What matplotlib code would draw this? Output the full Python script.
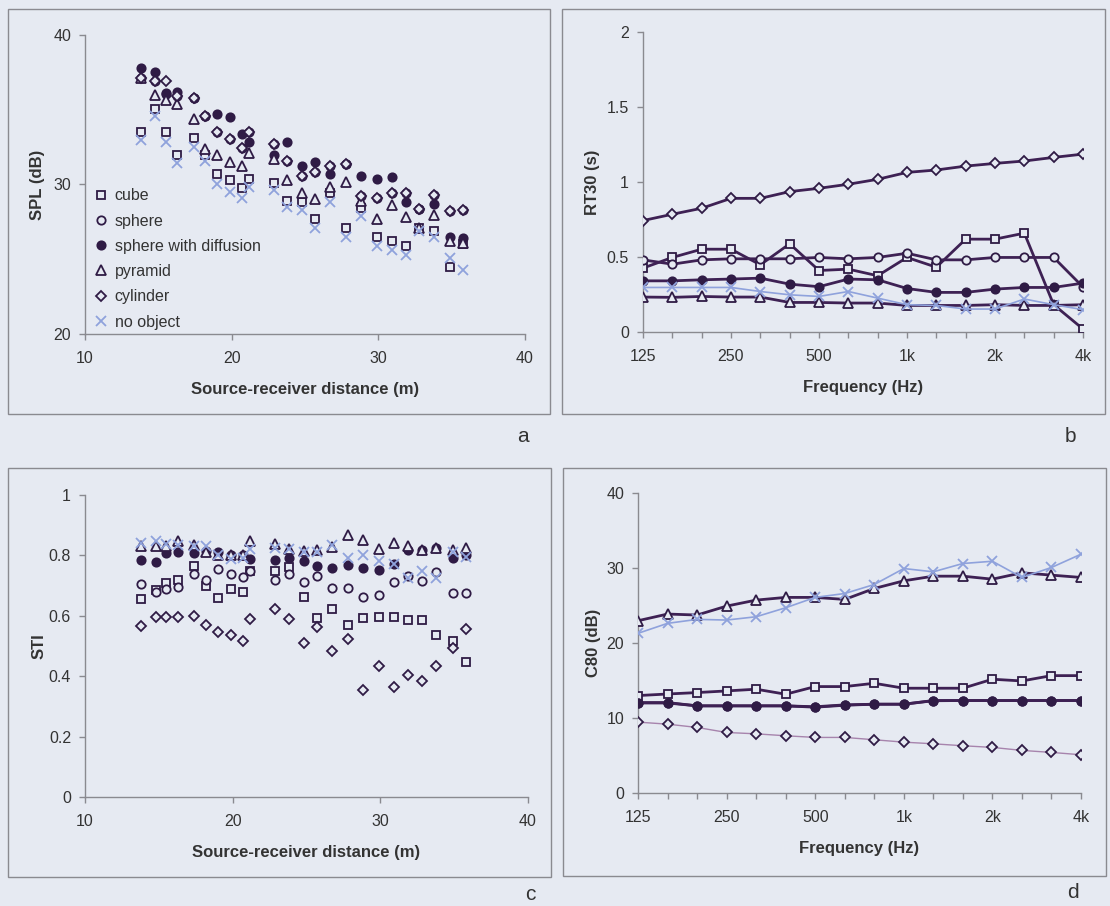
import numpy as np
import matplotlib
matplotlib.use("Agg")
import matplotlib.pyplot as plt
from matplotlib.patches import Rectangle

plt.rcParams["font.family"] = ["Liberation Sans", "DejaVu Sans"]

#%% data
dist = [13.8, 14.8, 15.5, 16.3, 17.4, 18.2, 19.0, 19.9, 20.7, 21.2, 22.9, 23.8,
        24.8, 25.7, 26.7, 27.8, 28.8, 29.9, 30.9, 31.9, 32.8, 33.8, 34.9, 35.8]

spl_cube = [33.5, 35.05, 33.5, 32.0, 33.1, 32.0, 30.7, 30.3, 29.75, 30.35, 30.1, 28.9,
            28.85, 27.7, 29.4, 27.1, 28.4, 26.5, 26.2, 25.9, 27.1, 26.9, 24.5, 26.0]
spl_sphere = [37.1, 36.9, 36.05, 35.9, 35.8, 34.6, 33.5, 33.05, 32.45, 33.5, 32.7, 31.6,
              30.6, 30.85, 31.25, 31.35, 29.2, 29.1, 29.4, 29.4, 28.35, 29.3, 28.25, 28.3]
spl_diff = [37.8, 37.5, 36.1, 36.2, 35.8, 34.6, 34.7, 34.5, 33.4, 32.85, 32.0, 32.85,
            31.25, 31.5, 30.7, 31.35, 30.6, 30.4, 30.5, 28.8, 28.35, 28.7, 26.5, 26.4]
spl_pyr = [37.1, 36.0, 35.65, 35.4, 34.4, 32.4, 32.0, 31.5, 31.25, 32.1, 31.7, 30.3,
           29.45, 29.05, 29.85, 30.2, 28.9, 27.7, 28.6, 27.8, 27.1, 27.95, 26.2, 26.1]
spl_cyl = [37.1, 36.9, 36.9, 35.9, 35.8, 34.6, 33.5, 33.05, 32.45, 33.5, 32.7, 31.6,
           30.6, 30.85, 31.25, 31.35, 29.2, 29.1, 29.4, 29.4, 28.35, 29.3, 28.25, 28.3]
spl_none = [33.0, 34.6, 32.85, 31.45, 32.5, 31.6, 30.0, 29.5, 29.1, 29.85, 29.6, 28.5,
            28.3, 27.1, 28.8, 26.5, 27.9, 25.9, 25.6, 25.3, 26.9, 26.5, 25.1, 24.3]

sti_cube = [0.656, 0.687, 0.709, 0.72, 0.764, 0.70, 0.66, 0.689, 0.678, 0.747, 0.747, 0.762,
            0.662, 0.593, 0.623, 0.571, 0.593, 0.596, 0.596, 0.586, 0.586, 0.536, 0.516, 0.447]
sti_sphere = [0.705, 0.68, 0.689, 0.696, 0.738, 0.72, 0.756, 0.738, 0.727, 0.747, 0.72, 0.738,
              0.711, 0.731, 0.692, 0.692, 0.662, 0.67, 0.712, 0.731, 0.714, 0.744, 0.674, 0.674]
sti_diff = [0.786, 0.777, 0.808, 0.81, 0.808, 0.815, 0.81, 0.802, 0.80, 0.788, 0.784, 0.791,
            0.78, 0.764, 0.758, 0.767, 0.758, 0.753, 0.771, 0.819, 0.819, 0.824, 0.793, 0.80]
sti_pyr = [0.832, 0.832, 0.83, 0.848, 0.835, 0.81, 0.80, 0.80, 0.80, 0.848, 0.838, 0.82,
           0.815, 0.819, 0.827, 0.866, 0.852, 0.822, 0.841, 0.832, 0.819, 0.824, 0.819, 0.824]
sti_cyl = [0.566, 0.596, 0.596, 0.596, 0.60, 0.568, 0.546, 0.536, 0.516, 0.588, 0.621, 0.591,
           0.509, 0.564, 0.484, 0.522, 0.354, 0.434, 0.365, 0.404, 0.385, 0.434, 0.495, 0.555]
sti_none = [0.84, 0.848, 0.838, 0.835, 0.83, 0.83, 0.80, 0.788, 0.79, 0.82, 0.824, 0.82,
            0.81, 0.81, 0.835, 0.79, 0.80, 0.78, 0.771, 0.725, 0.747, 0.725, 0.81, 0.795]

freq_labels = ["125", "", "", "250", "", "", "500", "", "", "1k", "", "", "2k", "", "", "4k"]

rt_cube = [0.426, 0.497, 0.552, 0.552, 0.448, 0.588, 0.41, 0.419, 0.375, 0.497, 0.432, 0.619,
           0.619, 0.659, 0.182, 0.02]
rt_sphere = [0.481, 0.452, 0.481, 0.488, 0.488, 0.488, 0.497, 0.488, 0.497, 0.525, 0.481, 0.481,
             0.497, 0.497, 0.497, 0.30]
rt_diff = [0.341, 0.341, 0.348, 0.353, 0.359, 0.319, 0.302, 0.353, 0.348, 0.29, 0.264, 0.264,
           0.286, 0.297, 0.297, 0.326]
rt_pyr = [0.233, 0.231, 0.237, 0.233, 0.233, 0.197, 0.197, 0.193, 0.193, 0.177, 0.177, 0.177,
          0.182, 0.177, 0.177, 0.182]
rt_cyl = [0.743, 0.785, 0.825, 0.891, 0.891, 0.936, 0.958, 0.985, 1.018, 1.064, 1.08, 1.106,
          1.124, 1.14, 1.164, 1.186]
rt_none = [0.297, 0.297, 0.297, 0.297, 0.27, 0.248, 0.237, 0.27, 0.226, 0.182, 0.177, 0.153,
           0.153, 0.22, 0.182, 0.149]

c80_cube = [12.99, 13.2, 13.39, 13.61, 13.84, 13.17, 14.19, 14.19, 14.63, 13.97, 13.97, 13.97,
            15.17, 14.94, 15.65, 15.65]
c80_sphere = [12.0, 12.0, 11.62, 11.62, 11.62, 11.62, 11.44, 11.7, 11.84, 11.84, 12.33, 12.33,
              12.33, 12.33, 12.33, 12.33]
c80_diff = [12.06, 12.06, 11.62, 11.62, 11.62, 11.62, 11.5, 11.75, 11.84, 11.84, 12.3, 12.33,
            12.33, 12.33, 12.33, 12.33]
c80_pyr = [22.97, 23.86, 23.73, 24.92, 25.72, 26.08, 26.08, 25.81, 27.27, 28.29, 28.91, 28.91,
           28.51, 29.36, 29.05, 28.74]
c80_cyl = [9.45, 9.18, 8.74, 8.07, 7.89, 7.63, 7.41, 7.41, 7.1, 6.78, 6.56, 6.3, 6.08, 5.68,
           5.41, 5.1]
c80_none = [21.29, 22.62, 23.15, 23.06, 23.5, 24.7, 26.08, 26.6, 27.8, 29.93, 29.49, 30.6,
            30.9, 28.74, 30.07, 31.84]

names = ["cube", "sphere", "sphere with diffusion", "pyramid", "cylinder", "no object"]

#%% styles
bg = "#e6eaf2"
dark = "#2f1b45"
line_dark = "#3e2154"
light_blue = "#8fa2dc"
cyl_line = "#a784ad"
gray = "#8a8a90"
txt = "#333333"

W, H = 1110, 906

styles = [
    dict(marker="s", mfc=bg, mec=dark, ms=6),
    dict(marker="o", mfc=bg, mec=dark, ms=6),
    dict(marker="o", mfc=dark, mec=dark, ms=6),
    dict(marker="^", mfc=bg, mec=dark, ms=6.5),
    dict(marker="D", mfc=bg, mec=dark, ms=5),
    dict(marker="x", mfc=light_blue, mec=light_blue, ms=7),
]


def px_axes(fig, x0, y0, x1, y1):
    return fig.add_axes([x0 / W, 1 - y1 / H, (x1 - x0) / W, (y1 - y0) / H])


def style_axes(ax):
    ax.set_facecolor("none")
    for s in ["top", "right"]:
        ax.spines[s].set_visible(False)
    for s in ["left", "bottom"]:
        ax.spines[s].set_color(gray)
        ax.spines[s].set_linewidth(1)
    ax.tick_params(direction="out", length=4, width=1, color=gray,
                   labelcolor=txt, labelsize=11.5, pad=6)
    ax.tick_params(axis="x", pad=8)


def scatter_panel(ax, series):
    for vals, st in zip(series, styles):
        ax.plot(dist, vals, ls="none", mew=1.3, zorder=3, **st)
    ax.set_xlim(10, 40)
    ax.set_xticks([10, 20, 30, 40])
    ax.set_xlabel("Source-receiver distance (m)", fontsize=12, fontweight="bold", color=txt)
    ax.xaxis.set_label_coords(0.5, -0.16)


def line_panel(ax, series, widths, colors):
    x = np.arange(16)
    for vals, st, lw, c in zip(series, styles, widths, colors):
        ax.plot(x, vals, ls="-", lw=lw, color=c, mew=1.3, zorder=3, **st)
    ax.set_xlim(0, 15)
    ax.set_xticks(x)
    ax.set_xticklabels(freq_labels)
    ax.set_xlabel("Frequency (Hz)", fontsize=12, fontweight="bold", color=txt)
    ax.xaxis.set_label_coords(0.5, -0.16)


fig = plt.figure(figsize=(W / 100, H / 100), dpi=100, facecolor=bg)

# panel boxes
for (x0, y0, x1, y1) in [(8, 9, 550, 414), (562, 9, 1105, 414),
                         (8, 468, 551, 877), (563, 468, 1106, 876)]:
    fig.add_artist(Rectangle((x0 / W, 1 - y1 / H), (x1 - x0) / W, (y1 - y0) / H,
                             transform=fig.transFigure, fill=False, ec=gray, lw=1))

#%% a) SPL
ax_a = px_axes(fig, 85, 35, 525, 334)
style_axes(ax_a)
scatter_panel(ax_a, [spl_cube, spl_sphere, spl_diff, spl_pyr, spl_cyl, spl_none])
ax_a.set_ylim(20, 40)
ax_a.set_yticks([20, 30, 40])
ax_a.set_ylabel("SPL (dB)", fontsize=12, fontweight="bold", color=txt)
ax_a.yaxis.set_label_coords(-0.091, 0.5)
handles = ax_a.get_lines()
ax_a.legend(handles, names, loc="upper left", bbox_to_anchor=(0.011, 0.503),
            frameon=False, fontsize=11.5, labelcolor=txt, handlelength=0.8,
            handletextpad=0.45, labelspacing=0.64, borderpad=0, borderaxespad=0.3)

#%% b) RT30
ax_b = px_axes(fig, 643, 32, 1083, 332)
style_axes(ax_b)
line_panel(ax_b, [rt_cube, rt_sphere, rt_diff, rt_pyr, rt_cyl, rt_none],
           [2, 2, 2, 2, 2, 1.2], [line_dark] * 5 + [light_blue])
ax_b.set_ylim(0, 2)
ax_b.set_yticks([0, 0.5, 1, 1.5, 2])
ax_b.set_yticklabels(["0", "0.5", "1", "1.5", "2"])
ax_b.set_ylabel("RT30 (s)", fontsize=12, fontweight="bold", color=txt)
ax_b.yaxis.set_label_coords(-0.098, 0.5)

#%% c) STI
ax_c = px_axes(fig, 85, 495, 528, 797)
style_axes(ax_c)
scatter_panel(ax_c, [sti_cube, sti_sphere, sti_diff, sti_pyr, sti_cyl, sti_none])
ax_c.set_ylim(0, 1)
ax_c.set_yticks([0, 0.2, 0.4, 0.6, 0.8, 1])
ax_c.set_yticklabels(["0", "0.2", "0.4", "0.6", "0.8", "1"])
ax_c.set_ylabel("STI", fontsize=12, fontweight="bold", color=txt)
ax_c.yaxis.set_label_coords(-0.086, 0.5)

#%% d) C80
ax_d = px_axes(fig, 638, 493, 1081, 793)
style_axes(ax_d)
line_panel(ax_d, [c80_cube, c80_sphere, c80_diff, c80_pyr, c80_cyl, c80_none],
           [2, 2, 2, 2, 1, 1.2], [line_dark] * 4 + [cyl_line, light_blue])
ax_d.set_ylim(0, 40)
ax_d.set_yticks([0, 10, 20, 30, 40])
ax_d.set_ylabel("C80 (dB)", fontsize=12, fontweight="bold", color=txt)
ax_d.yaxis.set_label_coords(-0.084, 0.5)

# panel letters
for lab, (x, y) in zip("abcd", [(523, 437), (1070, 437), (530, 895), (1073, 893)]):
    fig.text(x / W, 1 - y / H, lab, fontsize=15, color=txt, ha="center", va="center")

fig.savefig("out.png", dpi=100, facecolor=bg)
